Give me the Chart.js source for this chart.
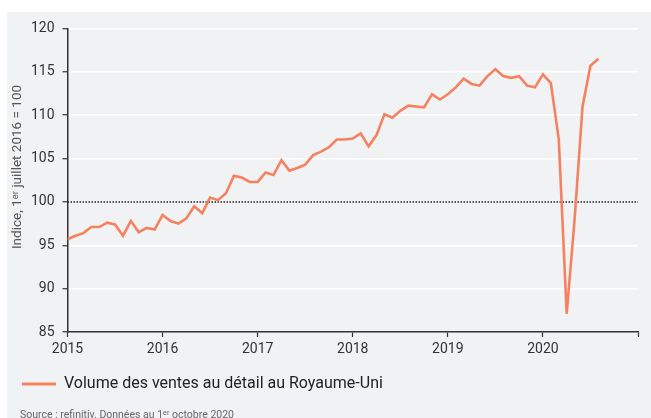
<!DOCTYPE html>
<html>
<head>
<meta charset="utf-8">
<script src="https://cdn.jsdelivr.net/npm/chart.js@4"></script>
<style>
  html, body { margin: 0; padding: 0; background: #ffffff; }
  #panel { position: absolute; left: 7px; top: 12px; width: 644px; height: 406px; background: #f1f2f4; }
  canvas { display: block; }
</style>
</head>
<body>
<div id="panel"><canvas id="c" width="644" height="406"></canvas></div>
<script>
// Monthly index, Jan 2015 .. Aug 2020
const yearLabels = ['2015', '2016', '2017', '2018', '2019', '2020'];
const retailVolume = [
  95.7, 96.1, 96.4, 97.1, 97.1, 97.6, 97.4, 96.1, 97.8, 96.5, 97.0, 96.8,
  98.5, 97.8, 97.5, 98.1, 99.5, 98.7, 100.5, 100.2, 101.0, 103.0, 102.8, 102.3,
  102.3, 103.4, 103.1, 104.8, 103.6, 103.9, 104.3, 105.4, 105.8, 106.3, 107.2, 107.2,
  107.3, 107.9, 106.4, 107.7, 110.1, 109.7, 110.5, 111.1, 111.0, 110.9, 112.4, 111.8,
  112.4, 113.2, 114.2, 113.6, 113.4, 114.5, 115.3, 114.5, 114.3, 114.5, 113.4, 113.2,
  114.7, 113.7, 107.2, 87.1, 98.0, 111.0, 115.7, 116.5
];
const referenceLevel = [100, 100];
const seriesName = 'Volume des ventes au détail au Royaume-Uni';
const axisTitle = 'Indice, 1ᵉʳ juillet 2016 = 100';
const sourceText = 'Source : refinitiv. Données au 1ᵉʳ octobre 2020';

const FONT = 'Roboto, "Open Sans", sans-serif';
const LINE = '#f4815f';

const textPlugin = {
  id: 'textNotes',
  afterDraw(chart) {
    const ctx = chart.ctx;
    ctx.save();
    // source note
    ctx.font = '10.5px ' + FONT;
    ctx.fillStyle = '#666';
    ctx.textBaseline = 'alphabetic';
    ctx.textAlign = 'left';
    ctx.fillText(sourceText, 13, 405.5);
    // y axis title
    ctx.translate(11, 155);
    ctx.rotate(-Math.PI / 2);
    ctx.font = '13.5px ' + FONT;
    ctx.fillStyle = '#555';
    ctx.textAlign = 'center';
    ctx.textBaseline = 'middle';
    ctx.fillText(axisTitle, 0, 0);
    ctx.restore();
  }
};

new Chart(document.getElementById('c'), {
  type: 'line',
  data: {
    datasets: [
      {
        label: seriesName,
        data: retailVolume.map((v, i) => ({ x: i, y: v })),
        borderColor: LINE,
        backgroundColor: LINE,
        borderWidth: 2.6,
        pointRadius: 0,
        tension: 0,
        order: 0
      },
      {
        label: 'ref',
        data: referenceLevel.map((v, i) => ({ x: i * 72, y: v })),
        borderColor: '#222',
        borderWidth: 1.5,
        borderDash: [1.5, 1.5],
        pointRadius: 0,
        order: 1
      }
    ]
  },
  options: {
    responsive: false,
    animation: false,
    layout: { padding: { left: 0, right: 13, top: 8.5, bottom: 16 } },
    scales: {
      x: {
        type: 'linear',
        min: 0, max: 72,
        afterFit: s => { s.height = 29; },
        ticks: {
          stepSize: 12,
          autoSkip: false,
          maxRotation: 0,
          padding: 4.5,
          color: '#333',
          font: { family: FONT, size: 14 },
          callback: v => (yearLabels[v / 12] !== undefined ? yearLabels[v / 12] : '')
        },
        grid: { drawOnChartArea: false, tickLength: 5, tickColor: '#333', tickWidth: 1.2 },
        border: { color: '#333', width: 1.5 }
      },
      y: {
        min: 85, max: 120,
        afterFit: s => { s.width = 60.5; },
        ticks: {
          stepSize: 5,
          padding: 8,
          color: '#333',
          font: { family: FONT, size: 14 }
        },
        grid: {
          color: c => (c.tick && (c.tick.value === 100 || c.tick.value === 85)) ? 'rgba(0,0,0,0)' : '#ffffff',
          lineWidth: 1.5,
          tickLength: 5,
          tickColor: '#333',
          tickWidth: 1.2
        },
        border: { color: '#333', width: 1.5 }
      }
    },
    plugins: {
      legend: {
        position: 'bottom',
        align: 'start',
        labels: {
          boxWidth: 34,
          boxHeight: 3,
          padding: 15,
          color: '#222',
          font: { family: FONT, size: 16 },
          generateLabels: chart => Chart.defaults.plugins.legend.labels.generateLabels(chart)
            .filter(l => l.datasetIndex === 0)
            .map(l => Object.assign(l, { lineWidth: 0 }))
        }
      },
      tooltip: { enabled: false }
    }
  },
  plugins: [textPlugin]
});
</script>
</body>
</html>
